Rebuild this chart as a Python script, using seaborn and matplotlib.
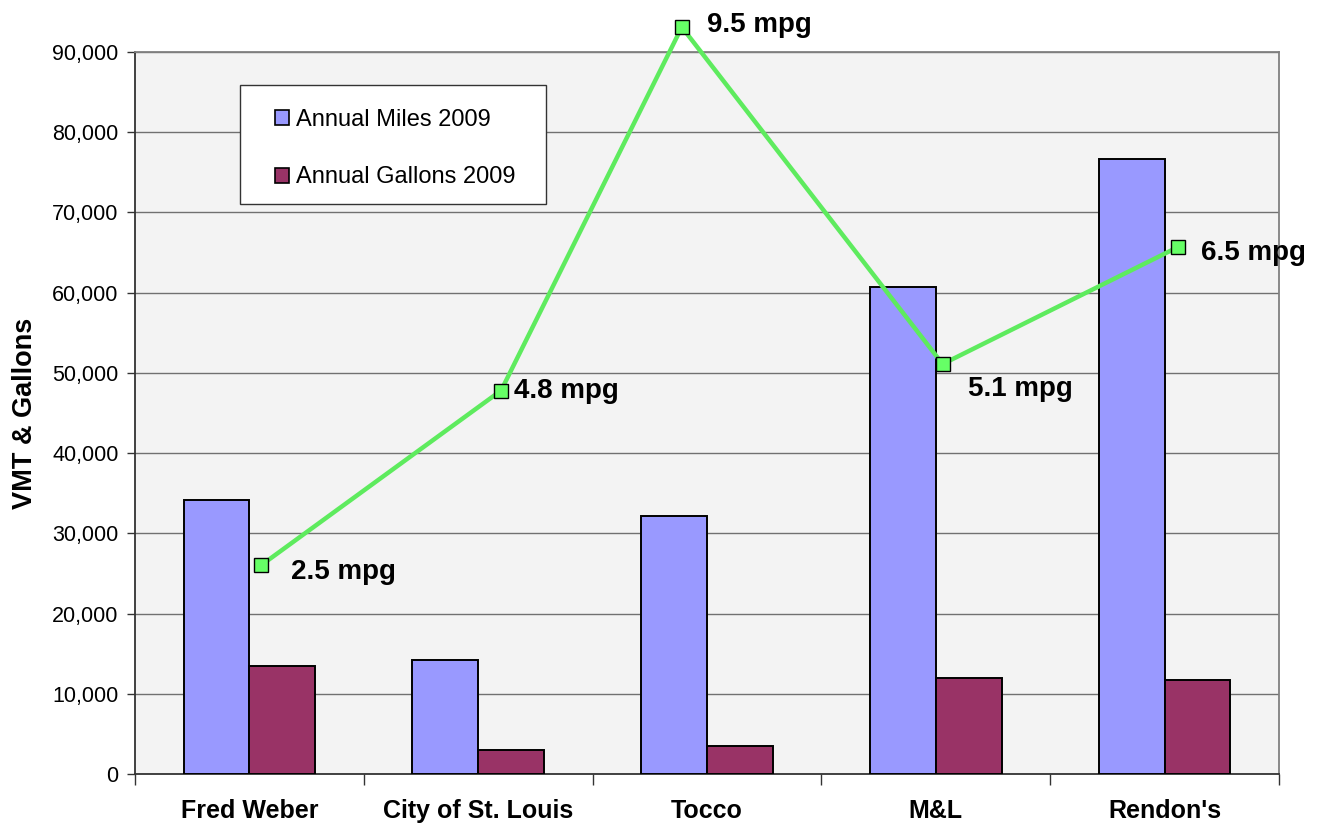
import matplotlib
matplotlib.use("Agg")
import matplotlib.pyplot as plt
import matplotlib.ticker as mticker
from matplotlib.patches import Rectangle
import seaborn as sns
import pandas as pd
import numpy as np

categories = ["Fred Weber", "City of St. Louis", "Tocco", "M&L", "Rendon's"]
miles_2009 = [34100, 14200, 32150, 60700, 76700]
gallons_2009 = [13450, 3000, 3450, 11950, 11750]
mpg_labels = ["2.5 mpg", "4.8 mpg", "9.5 mpg", "5.1 mpg", "6.5 mpg"]
mpg_line_x = [0.05, 1.10, 1.89, 3.03, 4.06]
mpg_line_y = [26000, 47800, 93100, 51100, 65700]
series_names = ["Annual Miles 2009", "Annual Gallons 2009"]

df = pd.DataFrame({
    "category": categories * 2,
    "value": miles_2009 + gallons_2009,
    "series": [series_names[0]] * 5 + [series_names[1]] * 5,
})

sns.set_theme(style="white")
plt.rcParams["font.family"] = ["Liberation Sans", "DejaVu Sans"]
plt.rcParams.update({"text.color": "black", "axes.labelcolor": "black",
                     "xtick.color": "black", "ytick.color": "black"})

fig = plt.figure(figsize=(13.19, 8.25), dpi=100)
ax = fig.add_axes([0.1024, 0.0618, 0.8672, 0.8752])
ax.set_facecolor("#F3F3F3")

sns.barplot(data=df, x="category", y="value", hue="series",
            palette=["#9999FF", "#993366"], width=0.575,
            edgecolor="black", linewidth=1.4, ax=ax, saturation=1,
            zorder=3)

ax.plot(mpg_line_x, mpg_line_y, color="#5EEB5E", lw=3.2, zorder=4, clip_on=False)
ax.plot(mpg_line_x, mpg_line_y, ls="none", marker="s", markersize=10,
        markerfacecolor="#66FF66", markeredgecolor="black", markeredgewidth=1.0,
        zorder=5, clip_on=False)

offsets = [(30, -7), (13, 0), (25, 2), (25, -25), (23, -6)]
for x, y, lab, (dx, dy) in zip(mpg_line_x, mpg_line_y, mpg_labels, offsets):
    ax.annotate(lab, (x, y), xytext=(dx, dy), textcoords="offset pixels",
                ha="left", va="center", fontsize=20, fontweight="bold",
                color="black", annotation_clip=False, zorder=6)

ax.set_xlim(-0.5, 4.5)
ax.set_ylim(0, 90000)
ax.yaxis.set_major_locator(mticker.MultipleLocator(10000))
ax.yaxis.set_major_formatter(mticker.FuncFormatter(lambda v, p: f"{int(v):,}"))
ax.grid(axis="y", color="#707070", lw=1.0, zorder=0)
ax.set_axisbelow(True)

ax.set_xlabel("")
ax.set_ylabel("VMT & Gallons", fontsize=19.5, fontweight="bold", labelpad=10)

ax.tick_params(axis="y", which="major", direction="out", length=6, width=1,
               color="#333333", labelsize=15.5, pad=6, left=True)
ax.tick_params(axis="x", which="major", length=0, labelsize=18, pad=18)
for lbl in ax.get_xticklabels():
    lbl.set_fontweight("bold")
ax.set_xticks(np.arange(-0.5, 5.0, 1.0), minor=True)
ax.tick_params(axis="x", which="minor", direction="out", length=8, width=1,
               color="#333333", bottom=True)

for side in ["left", "bottom"]:
    ax.spines[side].set_color("#333333")
    ax.spines[side].set_linewidth(1.3)
for side in ["top", "right"]:
    ax.spines[side].set_visible(True)
    ax.spines[side].set_color("#808080")
    ax.spines[side].set_linewidth(1.3)

# legend box frame
ax.add_patch(Rectangle((0.0915, 0.7895), 0.2677, 0.1648, transform=ax.transAxes,
                       facecolor="white", edgecolor="#333333", lw=1.0, zorder=6.5))
leg = ax.legend(loc="upper left", bbox_to_anchor=(0.1221, 0.921),
                frameon=False, fontsize=17,
                handlelength=0.6, handleheight=0.6, handletextpad=0.3,
                labelspacing=1.5, borderpad=0, borderaxespad=0)
for h in leg.legend_handles:
    h.set_edgecolor("black")
    h.set_linewidth(1.2)
leg.set_zorder(7)
leg.set_title(None)

fig.savefig("out.png", dpi=100, facecolor="white")
